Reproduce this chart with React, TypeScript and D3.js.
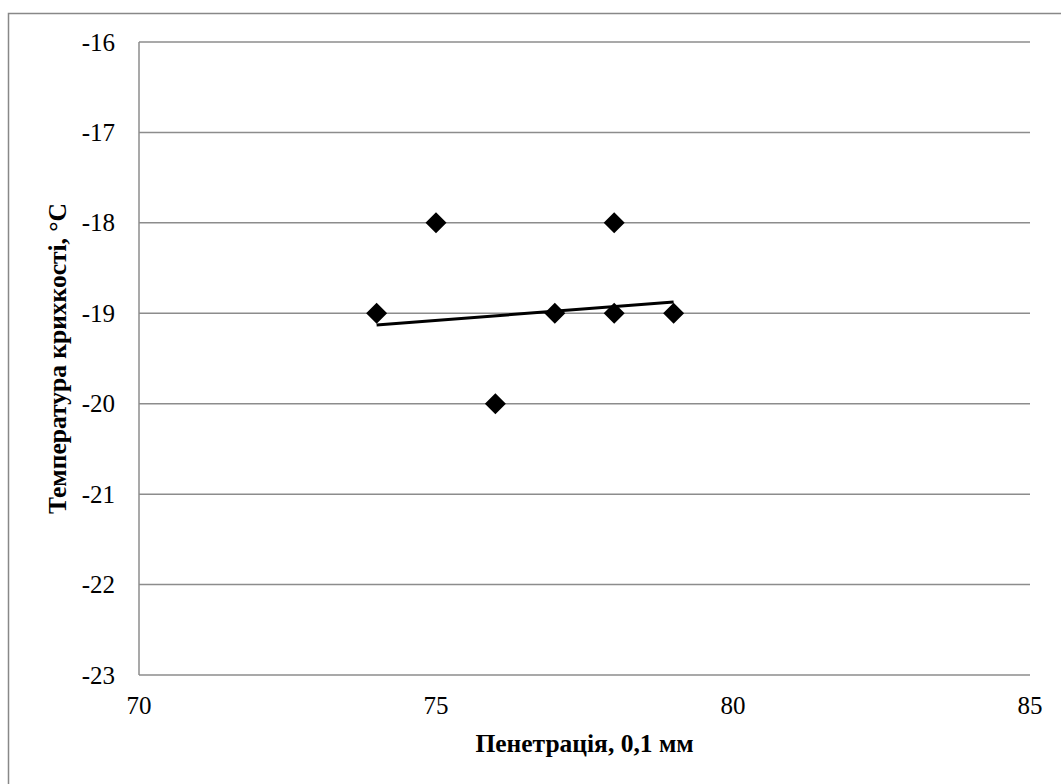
import React from "react";
import * as d3 from "d3";

// Penetration (0.1 mm) vs brittleness temperature (°C)
const penetration = [74, 75, 76, 77, 78, 78, 79];
const brittleTemp = [-19, -18, -20, -19, -18, -19, -19];

// Linear trend line endpoints
const trendX = [74, 79];
const trendY = [-19.13, -18.875];

const xTicks = [70, 75, 80, 85];
const yTicks = [-23, -22, -21, -20, -19, -18, -17, -16];

const W = 1061;
const H = 784;
const margin = { left: 139, right: 31, top: 42, bottom: 109 };

const FONT = "'Liberation Serif', 'Times New Roman', serif";

export default function App() {
  const x = d3
    .scaleLinear()
    .domain([70, 85])
    .range([margin.left, W - margin.right]);
  const y = d3
    .scaleLinear()
    .domain([-23, -16])
    .range([H - margin.bottom, margin.top]);

  const trendLine = d3
    .line<number>()
    .x((d) => x(d))
    .y((_, i) => y(trendY[i]));

  const diamond = (cx: number, cy: number, r: number) =>
    `M${cx},${cy - r}L${cx + r},${cy}L${cx},${cy + r}L${cx - r},${cy}Z`;

  const x0 = x(70);
  const x1 = x(85);
  const yBottom = y(-23);
  const yTop = y(-16);

  return (
    <svg
      width={W}
      height={H}
      style={{ position: "absolute", left: 0, top: 0, background: "#fff" }}
    >
      {/* chart frame */}
      <rect x={8.5} y={13.5} width={W + 20} height={H + 20} fill="none" stroke="#888" strokeWidth={1.5} />

      {/* horizontal gridlines */}
      {yTicks.map((t) => (
        <line key={t} x1={x0} x2={x1} y1={y(t)} y2={y(t)} stroke="#8c8c8c" strokeWidth={1.5} />
      ))}
      {/* vertical axis */}
      <line x1={x0} x2={x0} y1={yTop} y2={yBottom} stroke="#8c8c8c" strokeWidth={1.5} />

      {/* y tick labels */}
      {yTicks.map((t) => (
        <text key={t} x={115} y={y(t) + 8.5} textAnchor="end" fill="#000" fontFamily={FONT} fontSize={25}>
          {t}
        </text>
      ))}
      {/* x tick labels */}
      {xTicks.map((t) => (
        <text key={t} x={x(t)} y={714} textAnchor="middle" fill="#000" fontFamily={FONT} fontSize={25}>
          {t}
        </text>
      ))}

      {/* trend line */}
      <path d={trendLine(trendX) ?? ""} fill="none" stroke="#000" strokeWidth={3} />

      {/* data points */}
      {penetration.map((p, i) => (
        <path key={i} d={diamond(x(p), y(brittleTemp[i]), 10.5)} fill="#000" />
      ))}

      {/* axis titles */}
      <text
        x={(x0 + x1) / 2}
        y={752}
        textAnchor="middle"
        fill="#000"
        fontFamily={FONT}
        fontSize={25.5}
        fontWeight="bold"
      >
        Пенетрація, 0,1 мм
      </text>
      <text
        transform={`translate(66, ${(yTop + yBottom) / 2}) rotate(-90)`}
        textAnchor="middle"
        fill="#000"
        fontFamily={FONT}
        fontSize={25.5}
        fontWeight="bold"
      >
        Температура крихкості, °C
      </text>
    </svg>
  );
}
